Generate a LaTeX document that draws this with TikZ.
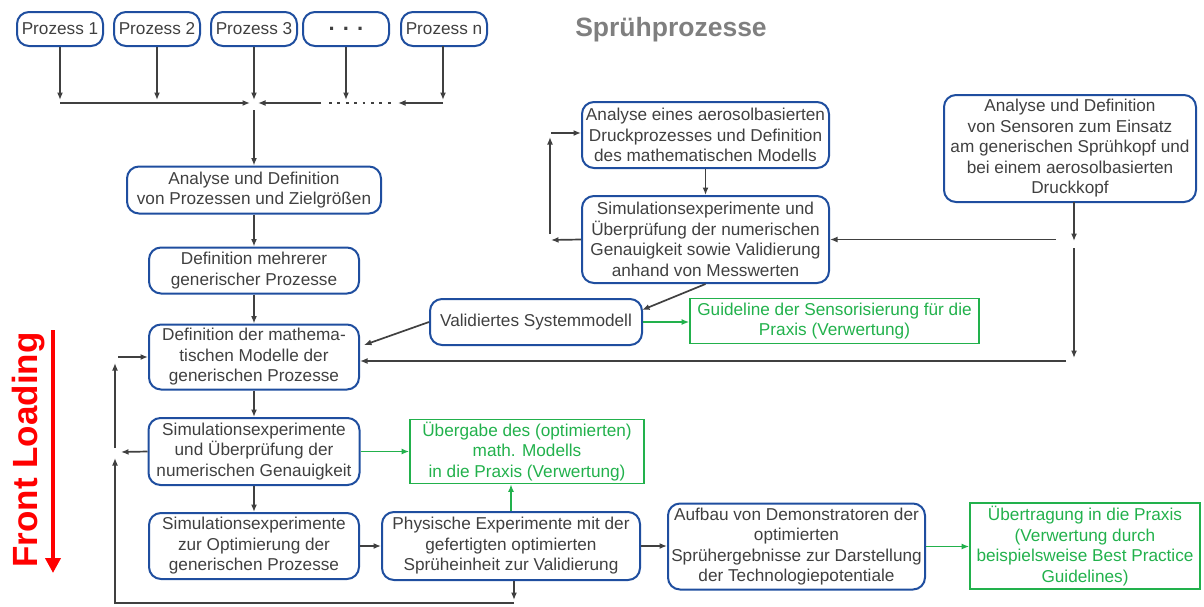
\documentclass[tikz,border=0pt]{standalone}
\usepackage{fontspec}
\setmainfont{Liberation Sans}
\usetikzlibrary{arrows.meta}
\definecolor{txt}{HTML}{404040}
\definecolor{bl}{HTML}{1F4E9F}
\definecolor{gr}{HTML}{22B14C}
\definecolor{ttl}{HTML}{7F7F7F}
\begin{document}
\begin{tikzpicture}[x=1pt,y=-1pt,
  font=\fontsize{17.2}{20.5}\selectfont,
  bx/.style={draw=bl, line width=2pt, rounded corners=12pt, align=center, inner sep=0pt, text=txt},
  gbx/.style={draw=gr, line width=1.6pt, align=center, inner sep=0pt, text=gr},
  ar/.style={draw=txt, line width=1.7pt, -{Latex[length=7.5pt,width=6pt]}},
  gar/.style={draw=gr, line width=1.7pt, -{Latex[length=7.5pt,width=6pt]}},
  dotline/.style={draw=txt, line width=2.8pt, dash pattern=on 2.8pt off 5.6pt}
]
\useasboundingbox (0,0) rectangle (1204,606);

% title and front loading
\node[font=\bfseries\fontsize{26.5}{30}\selectfont, text=ttl] (title) at (671,30) {Sprühprozesse};
\node[rotate=90, anchor=base, text=red, font=\bfseries\fontsize{35}{40}\selectfont] (fl) at (37,450) {Front Loading};
\coordinate (ra) at (53,330);
\coordinate (rb) at (53,573);
\draw[red, line width=4.5pt, -{Triangle[length=15pt,width=15pt]}] (ra) -- (rb);

% top process boxes
\node[bx, minimum width=86pt, minimum height=34pt] (p1) at (60,29) {Prozess 1};
\node[bx, minimum width=86pt, minimum height=34pt] (p2) at (157,29) {Prozess 2};
\node[bx, minimum width=86pt, minimum height=34pt] (p3) at (254,29) {Prozess 3};
\node[bx, minimum width=86pt, minimum height=34pt, font=\bfseries\fontsize{22}{22}\selectfont] (pd) at (346,29) {. . .};
\node[bx, minimum width=86pt, minimum height=34pt] (pn) at (444,29) {Prozess n};

\coordinate (jy) at (0,100);
\draw[ar] (p1.south) -- (p1.south |- jy);
\draw[ar] (p2.south) -- (p2.south |- jy);
\draw[ar] (p3.south) -- (p3.south |- jy);
\draw[ar] (pd.south) -- (pd.south |- jy);
\draw[ar] (443,46) -- (443,100);

\coordinate (hl) at (60,103);
\coordinate (jl) at (250,103);
\coordinate (jr) at (258,103);
\coordinate (hm) at (321,103);
\coordinate (dl) at (329,103);
\coordinate (dr) at (393,103);
\coordinate (hn) at (443,103);
\coordinate (hnt) at (398,103);
\coordinate (jb) at (254,110);
\draw[ar] (hl) -- (jl);
\draw[ar] (hm) -- (jr);
\draw[dotline] (dl) -- (dr);
\draw[ar] (hn) -- (hnt);

% main column
\node[bx, minimum width=254pt, minimum height=47pt] (A) at (254,190) {Analyse und Definition\\von Prozessen und Zielgrößen};
\node[bx, minimum width=210pt, minimum height=46pt] (B) at (254,270.5) {Definition mehrerer\\generischer Prozesse};
\node[bx, minimum width=210pt, minimum height=65pt] (C) at (254,357) {Definition der mathema-\\tischen Modelle der\\generischen Prozesse};
\node[bx, minimum width=211pt, minimum height=67pt] (D) at (254,451.5) {Simulationsexperimente\\und Überprüfung der\\numerischen Genauigkeit};
\node[bx, minimum width=210pt, minimum height=66pt] (E) at (254,546) {Simulationsexperimente\\zur Optimierung der\\generischen Prozesse};
\node[bx, minimum width=258pt, minimum height=68pt] (F) at (511,546) {Physische Experimente mit der\\gefertigten optimierten\\Sprüheinheit zur Validierung};
\node[bx, minimum width=257pt, minimum height=86pt] (G) at (796.5,546.5) {Aufbau von Demonstratoren der\\optimierten\\Sprühergebnisse zur Darstellung\\der Technologiepotentiale};
\node[gbx, minimum width=230pt, minimum height=86pt] (H) at (1085,546) {Übertragung in die Praxis\\(Verwertung durch\\beispielsweise Best Practice\\Guidelines)};
\node[gbx, minimum width=234pt, minimum height=64pt] (I) at (527,451.5) {Übergabe des (optimierten)\\math. Modells\\in die Praxis (Verwertung)};

% right part
\node[bx, minimum width=212pt, minimum height=46pt] (J) at (536,322) {Validiertes Systemmodell};
\node[gbx, minimum width=289pt, minimum height=45pt] (K) at (834.5,321) {Guideline der Sensorisierung für die\\Praxis (Verwertung)};
\node[bx, minimum width=247pt, minimum height=66pt] (L) at (705.5,135) {Analyse eines aerosolbasierten\\Druckprozesses und Definition\\des mathematischen Modells};
\node[bx, minimum width=247pt, minimum height=87pt] (M) at (705.5,239.5) {Simulationsexperimente und\\Überprüfung der numerischen\\Genauigkeit sowie Validierung\\anhand von Messwerten};
\node[bx, minimum width=252pt, minimum height=107pt] (N) at (1070,148.5) {Analyse und Definition\\von Sensoren zum Einsatz\\am generischen Sprühkopf und\\bei einem aerosolbasierten\\Druckkopf};

% main column arrows
\draw[ar] (jb) -- (A.north);
\draw[ar] (A) -- (B);
\draw[ar] (B) -- (C);
\draw[ar] (C) -- (D);
\draw[ar] (D) -- (E);
\draw[ar] (E.east) -- (E.east -| F.west);
\draw[ar] (F.east) -- (F.east -| G.west);
\draw[gar] (G.east) -- (G.east -| H.west);
\draw[gar] (D.east) -- (D.east -| I.west);
\draw[gar] (F.north) -- (F.north |- I.south);

% feedback loop left
\coordinate (dlt) at (121,452);
\coordinate (lu1) at (115,448);
\coordinate (lu2) at (115,363);
\coordinate (lc) at (118,357);
\coordinate (fb) at (514,600);
\coordinate (fb2) at (514,603);
\coordinate (bl1) at (115,603);
\coordinate (bl2) at (115,458);
\draw[ar] (D.west) -- (dlt);
\draw[ar] (lu1) -- (lu2);
\draw[ar] (lc) -- (lc -| C.west);
\draw[ar] (F.south -| fb) -- (fb);
\draw[ar] (fb2) -- (bl1) -- (bl2);

% right part arrows
\coordinate (cj) at (364,345);
\coordinate (jm) at (642,310);
\draw[ar] (J.west) -- (cj);
\draw[ar] (M.south) -- (jm);
\draw[gar] (J.east) -- (J.east -| K.west);
\draw[ar] (L) -- (M);
\coordinate (ml) at (551,240);
\coordinate (v1) at (550,234);
\coordinate (v2) at (550,137);
\coordinate (v3) at (551,133);
\draw[ar] (M.west) -- (ml);
\draw[ar] (v1) -- (v2);
\draw[ar] (v3) -- (v3 -| L.west);

\coordinate (n1) at (1074,202);
\coordinate (n2) at (1074,241);
\coordinate (n3) at (1074,248);
\coordinate (n4) at (1074,358);
\coordinate (nl) at (1056,239.5);
\coordinate (nc) at (1066,361);
\draw[ar] (n1) -- (n2);
\draw[ar] (n3) -- (n4);
\draw[ar] (nl) -- (nl -| M.east);
\draw[ar] (nc) -- (nc -| C.east);
\end{tikzpicture}
\end{document}
